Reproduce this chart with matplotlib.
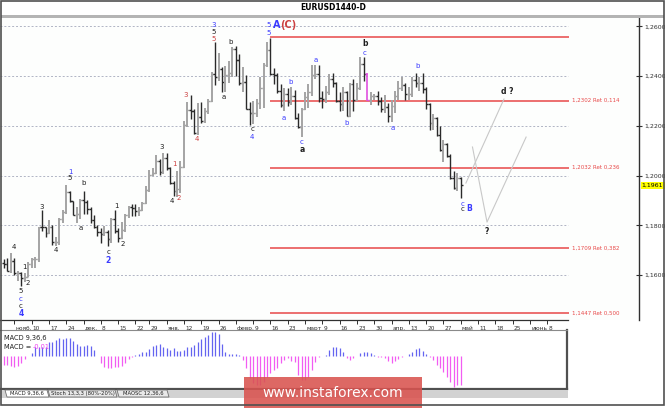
import matplotlib
matplotlib.use('Agg')
import matplotlib.pyplot as plt
from matplotlib.patches import Rectangle, Polygon
import matplotlib.transforms as mtransforms
import pandas as pd

W, H = 665, 408

# trading days (no bar on Dec 25), run on to the last date tick
days = pd.bdate_range('2017-10-31', '2018-06-08')
days = days[days != pd.Timestamp('2017-12-25')]
n_bars = 133

opens = [1.1650, 1.1646, 1.1618, 1.1657, 1.1608, 1.1609, 1.1586, 1.1593, 1.1646, 1.1664,
         1.1664, 1.1793, 1.1792, 1.1771, 1.1792, 1.1733, 1.1734, 1.1824, 1.1852, 1.1934,
         1.1896, 1.1843, 1.1845, 1.1902, 1.1893, 1.1865, 1.1822, 1.1795, 1.1773, 1.1764,
         1.1775, 1.1743, 1.1825, 1.1777, 1.1749, 1.1781, 1.1842, 1.1875, 1.1871, 1.1859,
         1.1860, 1.1890, 1.1943, 1.2004, 1.2010, 1.2058, 1.2014, 1.2069, 1.2030, 1.1969,
         1.1937, 1.1947, 1.2036, 1.2203, 1.2263, 1.2260, 1.2172, 1.2236, 1.2219, 1.2260,
         1.2300, 1.2408, 1.2398, 1.2427, 1.2378, 1.2406, 1.2414, 1.2511, 1.2464, 1.2371,
         1.2377, 1.2270, 1.2250, 1.2253, 1.2292, 1.2351, 1.2447, 1.2505, 1.2408, 1.2405,
         1.2339, 1.2283, 1.2328, 1.2296, 1.2319, 1.2232, 1.2194, 1.2266, 1.2317, 1.2336,
         1.2406, 1.2410, 1.2311, 1.2307, 1.2336, 1.2388, 1.2371, 1.2302, 1.2289, 1.2335,
         1.2241, 1.2369, 1.2304, 1.2354, 1.2450, 1.2407, 1.2305, 1.2321, 1.2321, 1.2301,
         1.2270, 1.2276, 1.2238, 1.2280, 1.2320, 1.2353, 1.2366, 1.2328, 1.2330, 1.2383,
         1.2372, 1.2373, 1.2347, 1.2287, 1.2210, 1.2233, 1.2162, 1.2103, 1.2129, 1.2079,
         1.1991, 1.1950, 1.1990]
highs = [1.1666, 1.1669, 1.1688, 1.1667, 1.1617, 1.1612, 1.1608, 1.1653, 1.1667, 1.1671,
         1.1795, 1.1861, 1.1793, 1.1821, 1.1803, 1.1752, 1.1830, 1.1860, 1.1961, 1.1940,
         1.1898, 1.1874, 1.1904, 1.1940, 1.1902, 1.1874, 1.1841, 1.1800, 1.1789, 1.1797,
         1.1780, 1.1828, 1.1862, 1.1791, 1.1812, 1.1845, 1.1878, 1.1885, 1.1885, 1.1875,
         1.1895, 1.1958, 1.2023, 1.2031, 1.2081, 1.2066, 1.2089, 1.2090, 1.2036, 1.1979,
         1.2017, 1.2058, 1.2218, 1.2296, 1.2323, 1.2270, 1.2292, 1.2297, 1.2272, 1.2307,
         1.2415, 1.2537, 1.2494, 1.2436, 1.2443, 1.2462, 1.2516, 1.2520, 1.2490, 1.2438,
         1.2405, 1.2297, 1.2301, 1.2310, 1.2396, 1.2453, 1.2537, 1.2555, 1.2433, 1.2413,
         1.2370, 1.2354, 1.2351, 1.2355, 1.2346, 1.2250, 1.2273, 1.2336, 1.2367, 1.2445,
         1.2445, 1.2447, 1.2340, 1.2362, 1.2410, 1.2413, 1.2378, 1.2336, 1.2356, 1.2341,
         1.2371, 1.2388, 1.2373, 1.2476, 1.2476, 1.2411, 1.2336, 1.2330, 1.2340, 1.2317,
         1.2326, 1.2293, 1.2303, 1.2339, 1.2380, 1.2396, 1.2374, 1.2358, 1.2396, 1.2414,
         1.2396, 1.2413, 1.2355, 1.2291, 1.2249, 1.2237, 1.2201, 1.2142, 1.2130, 1.2088,
         1.2018, 1.2009, 1.1995]
lows = [1.1627, 1.1617, 1.1610, 1.1599, 1.1574, 1.1554, 1.1570, 1.1590, 1.1627, 1.1630,
        1.1654, 1.1779, 1.1753, 1.1763, 1.1722, 1.1716, 1.1722, 1.1810, 1.1845, 1.1892,
        1.1841, 1.1811, 1.1826, 1.1844, 1.1846, 1.1809, 1.1790, 1.1756, 1.1729, 1.1755,
        1.1717, 1.1728, 1.1770, 1.1734, 1.1745, 1.1774, 1.1829, 1.1838, 1.1838, 1.1838,
        1.1858, 1.1885, 1.1936, 1.1998, 1.2005, 1.2003, 1.2007, 1.2023, 1.1966, 1.1916,
        1.1915, 1.1928, 1.2032, 1.2196, 1.2229, 1.2166, 1.2164, 1.2211, 1.2212, 1.2246,
        1.2295, 1.2365, 1.2381, 1.2336, 1.2337, 1.2373, 1.2398, 1.2402, 1.2365, 1.2335,
        1.2267, 1.2205, 1.2206, 1.2236, 1.2270, 1.2274, 1.2436, 1.2403, 1.2369, 1.2334,
        1.2275, 1.2261, 1.2279, 1.2286, 1.2228, 1.2190, 1.2154, 1.2263, 1.2272, 1.2319,
        1.2390, 1.2297, 1.2272, 1.2294, 1.2323, 1.2356, 1.2297, 1.2258, 1.2261, 1.2240,
        1.2236, 1.2260, 1.2300, 1.2346, 1.2380, 1.2301, 1.2283, 1.2305, 1.2283, 1.2254,
        1.2253, 1.2214, 1.2217, 1.2252, 1.2305, 1.2340, 1.2304, 1.2306, 1.2317, 1.2356,
        1.2341, 1.2334, 1.2268, 1.2183, 1.2185, 1.2160, 1.2099, 1.2055, 1.2074, 1.1985,
        1.1945, 1.1938, 1.1910]
closes = [1.1646, 1.1618, 1.1657, 1.1608, 1.1609, 1.1586, 1.1593, 1.1646, 1.1664, 1.1664,
          1.1793, 1.1792, 1.1771, 1.1792, 1.1733, 1.1734, 1.1824, 1.1852, 1.1934, 1.1896,
          1.1843, 1.1845, 1.1902, 1.1893, 1.1865, 1.1822, 1.1795, 1.1773, 1.1764, 1.1775,
          1.1743, 1.1825, 1.1777, 1.1749, 1.1781, 1.1842, 1.1875, 1.1871, 1.1859, 1.1860,
          1.1890, 1.1943, 1.2004, 1.2010, 1.2058, 1.2014, 1.2069, 1.2030, 1.1969, 1.1937,
          1.1947, 1.2036, 1.2203, 1.2263, 1.2260, 1.2172, 1.2236, 1.2219, 1.2260, 1.2300,
          1.2408, 1.2398, 1.2427, 1.2378, 1.2406, 1.2414, 1.2511, 1.2464, 1.2371, 1.2377,
          1.2270, 1.2250, 1.2253, 1.2292, 1.2351, 1.2447, 1.2505, 1.2408, 1.2405, 1.2339,
          1.2283, 1.2328, 1.2296, 1.2319, 1.2232, 1.2194, 1.2266, 1.2317, 1.2336, 1.2406,
          1.2410, 1.2311, 1.2307, 1.2336, 1.2388, 1.2371, 1.2302, 1.2289, 1.2335, 1.2241,
          1.2369, 1.2304, 1.2354, 1.2450, 1.2407, 1.2305, 1.2321, 1.2321, 1.2301, 1.2270,
          1.2276, 1.2238, 1.2280, 1.2320, 1.2353, 1.2366, 1.2328, 1.2330, 1.2383, 1.2372,
          1.2373, 1.2347, 1.2287, 1.2210, 1.2233, 1.2162, 1.2103, 1.2129, 1.2079, 1.1991,
          1.1950, 1.1990, 1.1961]

macd = [-0.0029, -0.0029, -0.0032, -0.0034, -0.0031, -0.0023, -0.0008, 0.0002, 0.0010, 0.0030,
        0.0030, 0.0030, 0.0030, 0.0048, 0.0048, 0.0055, 0.0060, 0.0058, 0.0062, 0.0062,
        0.0050, 0.0040, 0.0033, 0.0035, 0.0037, 0.0035, 0.0022, 0.0002, -0.0023, -0.0034,
        -0.0037, -0.0040, -0.0036, -0.0034, -0.0032, -0.0023, -0.0010, -0.0001, 0.0003, 0.0008,
        0.0013, 0.0013, 0.0023, 0.0035, 0.0037, 0.0040, 0.0032, 0.0029, 0.0020, 0.0026,
        0.0018, 0.0018, 0.0021, 0.0030, 0.0030, 0.0037, 0.0048, 0.0057, 0.0065, 0.0070,
        0.0081, 0.0081, 0.0073, 0.0040, 0.0015, 0.0007, 0.0008, 0.0007, 0.0004, -0.0012,
        -0.0040, -0.0073, -0.0089, -0.0095, -0.0095, -0.0084, -0.0067, -0.0056, -0.0045, -0.0037,
        -0.0023, -0.0012, -0.0007, -0.0015, -0.0018, -0.0062, -0.0078, -0.0078, -0.0067, -0.0045,
        -0.0018, -0.0001, 0.0002, 0.0004, 0.0021, 0.0030, 0.0030, 0.0026, 0.0013, -0.0004,
        -0.0012, -0.0004, 0.0000, 0.0010, 0.0013, 0.0015, 0.0010, 0.0003, -0.0001, -0.0001,
        -0.0004, -0.0015, -0.0023, -0.0015, -0.0009, -0.0002, 0.0002, 0.0007, 0.0015, 0.0023,
        0.0026, 0.0018, 0.0008, -0.0003, -0.0012, -0.0028, -0.0040, -0.0053, -0.0067, -0.0084,
        -0.0101, -0.0095, -0.0095]

month_names = {11: 'нояб.', 12: 'дек.', 1: 'янв.', 2: 'февр.', 3: 'март',
               4: 'апр.', 5: 'май', 6: 'июнь'}
price_ticks = [1.16, 1.18, 1.20, 1.22, 1.24, 1.26]
last_price = 1.1961
fib_levels = [1.2557, 1.2302, 1.2032, 1.1709, 1.1447]
fib_labels = ['', '1,2302 Ret 0,114', '1,2032 Ret 0,236', '1,1709 Ret 0,382', '1,1447 Ret 0,500']
highlight_bar = 105

# forecast paths (bar index, price)
path1_x = [133.5, 144.5]
path1_y = [1.1970, 1.2308]
path2_x = [135.4, 139.6, 150.9]
path2_y = [1.2115, 1.1813, 1.2155]

# wave marks: bar index, price, text, colour, bold
waves = [
    (4.9, 1.1447, '4', 'b', True), (4.9, 1.1475, 'c', 'k', False),
    (4.9, 1.1503, 'c', 'b', False), (4.9, 1.1536, '5', 'k', False),
    (6.9, 1.1568, '2', 'k', False), (5.8, 1.1632, '1', 'k', False),
    (2.9, 1.1713, '4', 'k', False), (11.0, 1.1874, '3', 'k', False),
    (15.0, 1.1701, '4', 'k', False), (19.1, 1.2014, '1', 'b', False),
    (19.1, 1.1990, '5', 'k', False), (23.1, 1.1970, 'b', 'k', False),
    (22.3, 1.1789, 'a', 'k', False), (30.1, 1.1692, 'c', 'k', False),
    (30.1, 1.1660, '2', 'b', True), (32.4, 1.1878, '1', 'k', False),
    (34.4, 1.1725, '2', 'k', False), (45.7, 1.2115, '3', 'k', False),
    (48.6, 1.1898, '4', 'k', False), (49.4, 1.2047, '1', 'r', False),
    (50.6, 1.1910, '2', 'r', False), (52.6, 1.2324, '3', 'r', False),
    (55.8, 1.2147, '4', 'r', False), (60.7, 1.2606, '3', 'b', False),
    (60.7, 1.2578, '5', 'k', False), (60.7, 1.2550, '5', 'r', False),
    (63.6, 1.2316, 'a', 'k', False), (65.6, 1.2538, 'b', 'k', False),
    (71.7, 1.2188, 'c', 'k', False), (71.7, 1.2155, '4', 'b', False),
    (76.6, 1.2606, '5', 'b', False), (76.6, 1.2574, '5', 'b', False),
    (82.9, 1.2377, 'b', 'b', False), (80.9, 1.2232, 'a', 'b', False),
    (86.1, 1.2135, 'c', 'b', False), (86.1, 1.2107, 'a', 'k', True),
    (90.2, 1.2465, 'a', 'b', False), (99.1, 1.2212, 'b', 'b', False),
    (104.3, 1.2530, 'b', 'k', True), (104.3, 1.2493, 'c', 'b', False),
    (112.4, 1.2192, 'a', 'b', False), (119.4, 1.2441, 'b', 'b', False),
    (145.4, 1.2340, 'd ?', 'k', True), (132.4, 1.1886, 'c', 'b', False),
    (132.4, 1.1866, 'c', 'k', False), (134.4, 1.1866, 'B', 'b', True),
    (139.6, 1.1777, '?', 'k', True),
]
wave_colors = {'b': '#3a3aff', 'r': '#cc4040', 'k': '#1e1e1e'}

plt.rcParams['font.family'] = ['DejaVu Sans']


def px2idx(p):
    return (p - 4) / 3.46


def fig_rect(x0, y0, x1, y1):
    return [x0 / W, 1 - y1 / H, (x1 - x0) / W, (y1 - y0) / H]


fig = plt.figure(figsize=(W / 100, H / 100), dpi=100)
fig.patch.set_facecolor('white')

# ---- main price window
ax = fig.add_axes(fig_rect(0, 18, 639, 320))
ax.set_facecolor('#fdfefd')
ax.set_xlim(px2idx(0), px2idx(639))
ax.set_ylim(1.14189, 1.26342)

ax.hlines(price_ticks, px2idx(0), px2idx(568), colors='#b0b4c4', linestyles=(0, (2, 2)), lw=0.7)
ax.hlines(fib_levels, px2idx(270), px2idx(569), colors='#e84848', lw=1.1)
for lvl, lab in zip(fib_levels, fib_labels):
    ax.text(px2idx(572), lvl, lab, fontsize=4, color='#e84848', ha='left', va='center')

for i in range(n_bars):
    up = closes[i] >= opens[i]
    col = '#a4a4a4' if up else '#2a2a2a'
    lw = 1.4 if up else 1.0
    if i == highlight_bar:
        col, lw = '#e050e0', 1.2
    ax.vlines(i, lows[i], highs[i], color=col, lw=lw)
    ax.hlines(opens[i], i - 0.55, i, color=col, lw=1.0)
    ax.hlines(closes[i], i, i + 0.55, color=col, lw=1.0)

ax.plot(path1_x, path1_y, color='#c8c8c8', lw=0.8)
ax.plot(path2_x, path2_y, color='#c8c8c8', lw=0.8)

for x, y, t, c, bold in waves:
    ax.text(x, y, t, color=wave_colors[c], ha='center', va='center',
            fontsize=5.5 if bold else 5, fontweight='bold' if bold else 'normal')
ax.text(px2idx(273), 1.2606, 'A', color=wave_colors['b'], fontsize=7, fontweight='bold',
        ha='left', va='center')
ax.text(px2idx(280.5), 1.2606, '(C)', color=wave_colors['r'], fontsize=7, fontweight='bold',
        ha='left', va='center')

# price scale on the right
ax.yaxis.tick_right()
ax.set_yticks(price_ticks)
ax.set_yticklabels([f'{p:.4f}'.replace('.', ',') for p in price_ticks])
ax.tick_params(axis='y', direction='inout', length=4, width=0.8, labelsize=4.5,
               colors='#303030', pad=1.5)
ax.annotate(f'{last_price:.4f}'.replace('.', ','), xy=(1.0, last_price),
            xycoords=('axes fraction', 'data'), xytext=(2, 0), textcoords='offset points',
            fontsize=4.5, color='black', va='center', ha='left',
            bbox=dict(boxstyle='square,pad=0.2', fc='#ffff00', ec='none'))

# date scale
fri = [i for i, d in enumerate(days) if d.weekday() == 4]
fri_lab = [month_names[days[i].month] if days[i].day <= 7 else str(days[i].day) for i in fri]
ax.set_xticks(fri)
ax.set_xticklabels(fri_lab)
ax.tick_params(axis='x', direction='out', length=3, width=0.7, labelsize=4.2,
               colors='#303030', pad=1)
shift = mtransforms.ScaledTranslation(1.2 / 100, 0, fig.dpi_scale_trans)
for lab in ax.get_xticklabels():
    lab.set_ha('left')
    lab.set_transform(lab.get_transform() + shift)

for s in ('left', 'top'):
    ax.spines[s].set_visible(False)
ax.spines['right'].set_color('#303030')
ax.spines['right'].set_linewidth(1.0)
ax.spines['bottom'].set_color('#303030')
ax.spines['bottom'].set_linewidth(0.9)
ax.spines['bottom'].set_bounds(px2idx(0), px2idx(568))

# ---- MACD window
ax2 = fig.add_axes(fig_rect(0, 330, 567, 389))
ax2.set_xlim(px2idx(0), px2idx(567))
ax2.set_ylim(-0.0108, 0.0087)
ax2.vlines(range(n_bars), 0, macd, colors=['#6464f0' if v > 0 else '#f25cf2' for v in macd],
           lw=0.9)
ax2.set_xticks([])
ax2.set_yticks([])
ax2.spines['left'].set_visible(False)
ax2.spines['top'].set_color('#8a8a8a')
ax2.spines['top'].set_linewidth(0.8)
for s in ('right', 'bottom'):
    ax2.spines[s].set_color('#505050')
    ax2.spines[s].set_linewidth(1.6)
fig.text(4 / W, 1 - 338 / H, 'MACD 9,36,6', fontsize=4.8, color='#202020', va='center')
fig.text(4 / W, 1 - 347 / H, 'MACD =', fontsize=4.8, color='#202020', va='center')
fig.text(33 / W, 1 - 347 / H, '-0,01', fontsize=4.8, color='#f040f0', va='center')

# ---- tabs
fig.add_artist(Rectangle((0, 1 - 398 / H), 568 / W, 8 / H, transform=fig.transFigure,
                         fc='#d2d2d2', ec='none'))
tabs = [('MACD 9,36,6', 5, 47, 'white'), ('Stoch 13,3,3 (80%-20%)', 48, 115, '#e8e8e8'),
        ('MAOSC 12,36,6', 117, 167, '#e8e8e8')]
for name, x0, x1, fc in tabs:
    pts = [(x0 / W, 1 - 390 / H), (x1 / W, 1 - 390 / H),
           ((x1 + 2) / W, 1 - 397 / H), ((x0 + 2) / W, 1 - 397 / H)]
    fig.add_artist(Polygon(pts, closed=True, transform=fig.transFigure, fc=fc,
                           ec='#707070', lw=0.6))
    fig.text((x0 + x1 + 2) / 2 / W, 1 - 393.5 / H, name, fontsize=3.8, color='#202020',
             ha='center', va='center')

# ---- title bar
fig.text(333 / W, 1 - 8 / H, 'EURUSD1440-D', fontsize=5.5, fontweight='bold',
         ha='center', va='center')
fig.add_artist(Rectangle((1 / W, 1 - 18 / H), 663 / W, 3 / H, transform=fig.transFigure,
                         fc='#b4b4b4', ec='none'))

# ---- watermark
fig.add_artist(Rectangle((244 / W, 0), 178 / W, 31 / H, transform=fig.transFigure,
                         fc='#d9534f', ec='none', alpha=0.88, zorder=10))
fig.text(333 / W, 1 - 393 / H, 'www.instaforex.com', fontsize=10, color='white',
         ha='center', va='center', zorder=11)

# ---- outer frame
fig.add_artist(Rectangle((0.5 / W, 1 - 405 / H), 663.5 / W, 404.5 / H,
                         transform=fig.transFigure, fill=False, ec='#505050', lw=1.2,
                         zorder=12))

fig.savefig('out.png', dpi=100)
